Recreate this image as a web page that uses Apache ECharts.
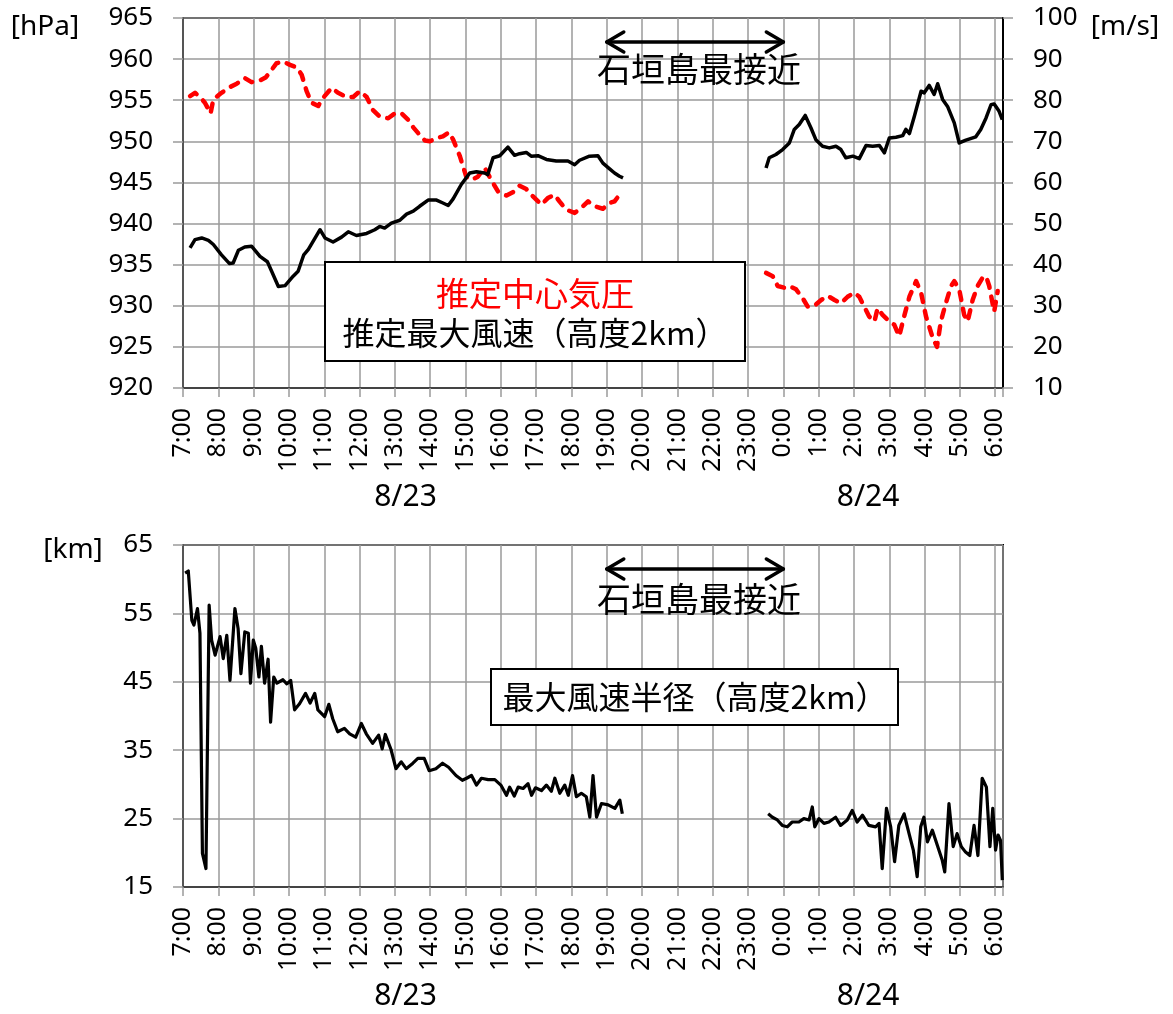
<!DOCTYPE html>
<html>
<head>
<meta charset="utf-8">
<script src="https://cdn.jsdelivr.net/npm/echarts@6/dist/echarts.min.js"></script>
<style>
  html, body { margin: 0; padding: 0; background: #fff; }
  #main { width: 1173px; height: 1014px; }
</style>
</head>
<body>
<div id="main"></div>
<script>
// time = hours since 8/23 0:00 (24 = 8/24 0:00)
// 推定中心気圧 [hPa]
const pressureBefore = [
  [7.20,955.5],[7.34,955.9],[7.48,955.4],[7.62,954.7],[7.78,953.4],[7.86,955.1],[8.09,955.9],
  [8.33,956.6],[8.52,957.0],[8.75,957.7],[8.94,957.2],[9.18,957.4],[9.35,957.8],[9.51,958.7],
  [9.65,959.5],[9.84,959.7],[10.03,959.3],[10.22,959.0],[10.36,958.1],[10.50,956.1],[10.64,954.7],
  [10.83,954.3],[10.97,955.3],[11.21,956.5],[11.39,955.9],[11.63,955.4],[11.82,955.4],[12.01,956.1],
  [12.20,955.4],[12.38,953.8],[12.57,953.0],[12.81,952.8],[13.00,953.4],[13.19,953.4],[13.38,952.6],
  [13.52,951.7],[13.66,951.0],[13.85,950.1],[13.99,950.0],[14.18,950.4],[14.36,950.6],[14.53,951.1],
  [14.65,950.2],[14.84,948.2],[15.02,945.7],[15.17,945.3],[15.35,945.7],[15.54,946.8],[15.73,945.3],
  [15.92,943.9],[16.16,943.4],[16.34,943.8],[16.53,944.6],[16.72,944.2],[16.91,943.3],[17.15,942.3],
  [17.33,943.1],[17.52,943.5],[17.66,942.7],[17.85,941.7],[18.09,941.3],[18.28,941.9],[18.47,942.7],
  [18.66,942.1],[18.89,941.8],[19.08,942.5],[19.22,942.7],[19.36,943.5]
];
const pressureAfter = [
  [23.51,934.0],[23.70,933.6],[23.84,932.4],[24.03,932.2],[24.17,932.4],[24.36,932.0],[24.55,930.9],
  [24.69,929.9],[24.88,930.0],[25.07,930.7],[25.26,931.2],[25.45,930.7],[25.63,930.3],[25.82,931.1],
  [26.01,931.6],[26.15,931.1],[26.29,929.9],[26.43,928.7],[26.58,928.1],[26.67,929.7],[26.81,928.9],
  [27.00,928.1],[27.14,927.7],[27.28,926.3],[27.42,928.7],[27.57,931.1],[27.76,933.0],[27.90,931.6],
  [28.04,928.7],[28.23,926.1],[28.35,925.0],[28.46,928.1],[28.60,930.3],[28.75,932.4],[28.84,933.0],
  [28.98,932.0],[29.12,928.9],[29.22,928.1],[29.36,930.7],[29.50,932.4],[29.64,933.4],[29.74,933.6],
  [29.83,932.4],[29.97,929.3],[30.07,931.8]
];
// 推定最大風速（高度2km） [m/s]
const windBefore = [
  [7.20,44.1],[7.34,46.1],[7.53,46.5],[7.72,45.9],[7.86,44.9],[8.09,42.4],[8.31,40.3],[8.42,40.4],
  [8.57,43.5],[8.75,44.3],[8.94,44.5],[9.18,42.0],[9.39,40.7],[9.51,38.4],[9.70,34.7],[9.89,34.9],
  [10.12,37.2],[10.26,38.4],[10.42,42.4],[10.55,43.7],[10.88,48.5],[11.02,46.5],[11.25,45.5],
  [11.49,46.7],[11.68,48.0],[11.91,47.1],[12.20,47.6],[12.43,48.5],[12.57,49.3],[12.71,48.9],
  [12.90,50.1],[13.14,50.8],[13.33,52.3],[13.52,53.0],[13.70,54.2],[13.94,55.7],[14.18,55.7],
  [14.36,55.0],[14.51,54.4],[14.65,56.0],[14.88,59.5],[15.12,62.3],[15.31,62.6],[15.54,62.3],
  [15.63,61.9],[15.78,66.0],[15.97,66.5],[16.20,68.6],[16.39,66.6],[16.53,67.0],[16.72,67.3],
  [16.86,66.4],[17.05,66.5],[17.29,65.6],[17.57,65.2],[17.90,65.2],[18.09,64.3],[18.23,65.4],
  [18.51,66.4],[18.75,66.5],[18.89,64.7],[19.08,63.3],[19.22,62.3],[19.36,61.5],[19.46,61.1]
];
const windAfter = [
  [23.51,63.5],[23.60,66.0],[23.79,66.8],[23.98,68.0],[24.17,69.6],[24.31,72.9],[24.45,74.1],
  [24.62,76.3],[24.78,73.3],[24.92,70.4],[25.11,68.8],[25.30,68.4],[25.49,68.8],[25.63,68.0],
  [25.77,66.0],[25.97,66.4],[26.15,65.8],[26.34,69.0],[26.53,68.8],[26.72,69.0],[26.86,67.2],
  [27.00,70.8],[27.19,71.0],[27.38,71.4],[27.47,72.9],[27.57,71.9],[27.71,76.1],[27.90,82.2],
  [27.99,81.8],[28.13,83.6],[28.27,81.4],[28.37,84.0],[28.51,80.2],[28.65,78.5],[28.84,74.5],
  [28.98,69.6],[29.17,70.3],[29.45,71.1],[29.59,72.9],[29.74,75.7],[29.88,78.9],[29.97,79.1],
  [30.11,77.3],[30.20,75.3]
];
// 最大風速半径（高度2km） [km]
const radiusBefore = [
  [7.06,60.9],[7.15,61.2],[7.25,54.0],[7.31,53.3],[7.41,55.7],[7.48,52.1],[7.55,19.9],[7.65,17.7],
  [7.74,56.2],[7.81,51.1],[7.91,48.9],[8.05,51.6],[8.14,48.4],[8.24,51.8],[8.33,45.2],[8.47,55.7],
  [8.56,52.8],[8.64,46.2],[8.75,52.3],[8.85,52.1],[8.91,44.8],[8.99,51.1],[9.06,49.9],[9.15,45.7],
  [9.22,50.2],[9.31,44.8],[9.41,48.3],[9.48,39.1],[9.57,45.7],[9.66,44.8],[9.83,45.3],[9.94,44.7],
  [10.05,45.2],[10.16,40.9],[10.30,41.8],[10.47,43.3],[10.60,41.9],[10.73,43.3],[10.82,40.9],
  [11.01,39.9],[11.13,41.7],[11.24,39.6],[11.38,37.7],[11.57,38.2],[11.72,37.4],[11.89,36.9],
  [12.05,38.9],[12.19,37.4],[12.37,36.0],[12.54,37.2],[12.64,35.2],[12.73,37.3],[12.89,35.1],
  [13.03,32.3],[13.18,33.3],[13.32,32.3],[13.51,33.1],[13.65,33.8],[13.83,33.8],[13.97,32.0],
  [14.16,32.3],[14.35,33.1],[14.52,32.5],[14.73,31.3],[14.91,30.6],[15.03,30.9],[15.17,31.3],
  [15.31,29.9],[15.45,30.9],[15.64,30.7],[15.83,30.7],[16.00,29.9],[16.16,28.4],[16.25,29.6],
  [16.38,28.3],[16.49,29.6],[16.63,29.4],[16.77,30.1],[16.87,28.4],[16.98,29.5],[17.15,29.1],
  [17.29,29.9],[17.43,29.0],[17.53,30.9],[17.67,28.7],[17.81,29.9],[17.91,28.4],[18.03,31.3],
  [18.14,28.2],[18.28,28.7],[18.42,28.2],[18.52,25.2],[18.61,31.3],[18.71,25.2],[18.85,27.2],
  [19.04,27.0],[19.23,26.5],[19.37,27.7],[19.44,25.7]
];
const radiusAfter = [
  [23.57,25.7],[23.69,25.2],[23.83,24.8],[23.97,24.0],[24.11,23.8],[24.25,24.5],[24.44,24.5],
  [24.58,25.0],[24.73,24.8],[24.82,26.7],[24.89,23.8],[25.01,25.0],[25.15,24.3],[25.29,24.5],
  [25.48,25.2],[25.62,24.0],[25.81,24.8],[25.95,26.2],[26.09,24.5],[26.24,25.5],[26.42,24.0],
  [26.61,23.8],[26.71,24.3],[26.80,17.7],[26.92,26.5],[27.04,23.8],[27.15,18.7],[27.27,24.0],
  [27.42,25.7],[27.56,22.8],[27.68,20.4],[27.79,16.5],[27.89,23.8],[27.98,25.2],[28.08,21.6],
  [28.22,23.3],[28.36,21.1],[28.50,18.9],[28.57,17.2],[28.69,27.2],[28.81,20.9],[28.92,22.8],
  [29.04,20.9],[29.16,20.1],[29.28,19.6],[29.40,24.0],[29.51,19.6],[29.63,30.9],[29.75,29.6],
  [29.85,20.9],[29.93,26.5],[30.01,20.4],[30.08,22.6],[30.15,21.8],[30.20,16.0]
];
const closestApproach = [19, 24];   // 石垣島最接近 19:00 - 0:00
const dateLabels = ['8/23', '8/24'];

const NUM_FONT = 'Noto Sans';
const CJK_FONT = 'Noto Sans CJK JP';
const GRID_LINE = '#9a9a9a';

function timeAxis(gridIndex) {
  return {
    type: 'value', gridIndex: gridIndex, min: 7, max: 30.22, interval: 1,
    axisLine: { show: true, onZero: false, lineStyle: { color: '#444', width: 2 } },
    axisTick: { show: true, length: 9, lineStyle: { color: GRID_LINE, width: 1.5 } },
    splitLine: { show: true, lineStyle: { color: GRID_LINE, width: 1.5 } },
    axisLabel: {
      rotate: 90, margin: 20, color: '#000', fontSize: 25, fontFamily: NUM_FONT,
      formatter: function (v) {
        return Math.abs(v - Math.round(v)) < 1e-6 ? (Math.round(v) % 24) + ':00' : '';
      }
    }
  };
}

function valueAxis(gridIndex, pos, min, max, interval, showSplit) {
  return {
    type: 'value', gridIndex: gridIndex, position: pos, min: min, max: max, interval: interval,
    axisLine: { show: true, onZero: false, lineStyle: { color: pos === 'left' ? '#555' : '#000', width: 2 } },
    axisTick: { show: true, length: 10, lineStyle: { color: GRID_LINE, width: 1.5 } },
    splitLine: { show: showSplit, lineStyle: { color: GRID_LINE, width: 1.5 } },
    axisLabel: { margin: 30, color: '#000', fontSize: 26, fontFamily: NUM_FONT }
  };
}

const pressureStyle = { color: '#ff0000', width: 4.5, type: [8, 9], cap: 'round', join: 'round' };
const blackStyle = { color: '#000', width: 3.5, join: 'round' };

function line(data, xi, yi, style, z) {
  return {
    type: 'line', data: data, xAxisIndex: xi, yAxisIndex: yi, symbol: 'none',
    lineStyle: style, itemStyle: { color: style.color }, z: z, silent: true
  };
}

const chart = echarts.init(document.getElementById('main'));
chart.setOption({
  animation: false,
  backgroundColor: '#fff',
  grid: [
    { left: 183, top: 18, width: 820, height: 370, show: true, borderColor: '#000', borderWidth: 2 },
    { left: 183, top: 545, width: 820, height: 342, show: true, borderColor: '#000', borderWidth: 2 }
  ],
  xAxis: [timeAxis(0), timeAxis(1)],
  yAxis: [
    valueAxis(0, 'left', 920, 965, 5, true),
    valueAxis(0, 'right', 10, 100, 10, false),
    valueAxis(1, 'left', 15, 65, 10, true)
  ],
  series: [
    line(pressureBefore, 0, 0, pressureStyle, 3),
    line(pressureAfter, 0, 0, pressureStyle, 3),
    line(windBefore, 0, 1, blackStyle, 4),
    line(windAfter, 0, 1, blackStyle, 4),
    line(radiusBefore, 1, 2, { color: '#000', width: 3.2, join: 'round' }, 4),
    line(radiusAfter, 1, 2, { color: '#000', width: 3.2, join: 'round' }, 4)
  ]
});

// annotations
function txt(str, x, y, size, color, family) {
  return {
    type: 'text', z: 100,
    style: {
      text: str, x: x, y: y, fill: color || '#000',
      font: size + 'px "' + (family || NUM_FONT) + '"',
      align: 'center', verticalAlign: 'middle', textAlign: 'center', textVerticalAlign: 'middle'
    }
  };
}

function arrow(x1, x2, y) {
  const s = { stroke: '#000', lineWidth: 3.5, lineCap: 'round', lineJoin: 'round', fill: null };
  return [
    { type: 'line', z: 100, shape: { x1: x1, y1: y, x2: x2, y2: y }, style: s },
    { type: 'polyline', z: 100, shape: { points: [[x1 + 17, y - 10], [x1, y], [x1 + 17, y + 10]] }, style: s },
    { type: 'polyline', z: 100, shape: { points: [[x2 - 17, y - 10], [x2, y], [x2 - 17, y + 10]] }, style: s }
  ];
}

const ax1 = chart.convertToPixel({ xAxisIndex: 0 }, closestApproach[0]);
const ax2 = chart.convertToPixel({ xAxisIndex: 0 }, closestApproach[1]);
const d1 = chart.convertToPixel({ xAxisIndex: 0 }, 13.3);
const d2 = chart.convertToPixel({ xAxisIndex: 0 }, 26.4);

const graphics = [
  txt('[hPa]', 45, 27, 28),
  txt('[m/s]', 1125, 27, 28),
  txt('[km]', 73, 550, 28),
  txt(dateLabels[0], d1, 497, 30),
  txt(dateLabels[1], d2, 497, 30),
  txt(dateLabels[0], d1, 996, 30),
  txt(dateLabels[1], d2, 996, 30),
  txt('石垣島最接近', (ax1 + ax2) / 2 + 4, 69, 34, '#000', CJK_FONT),
  txt('石垣島最接近', (ax1 + ax2) / 2 + 4, 599, 34, '#000', CJK_FONT),
  {
    type: 'rect', z: 99, shape: { x: 325, y: 262, width: 420, height: 99 },
    style: { fill: '#fff', stroke: '#000', lineWidth: 2 }
  },
  txt('推定中心気圧', 535, 293, 33, '#ff0000', CJK_FONT),
  txt('推定最大風速（高度2km）', 535, 333, 32, '#000', CJK_FONT),
  {
    type: 'rect', z: 99, shape: { x: 491, y: 669, width: 407, height: 56 },
    style: { fill: '#fff', stroke: '#000', lineWidth: 2 }
  },
  txt('最大風速半径（高度2km）', 695, 697, 32, '#000', CJK_FONT)
].concat(arrow(ax1, ax2, 42), arrow(ax1, ax2, 569));

chart.setOption({ graphic: graphics });
</script>
</body>
</html>
